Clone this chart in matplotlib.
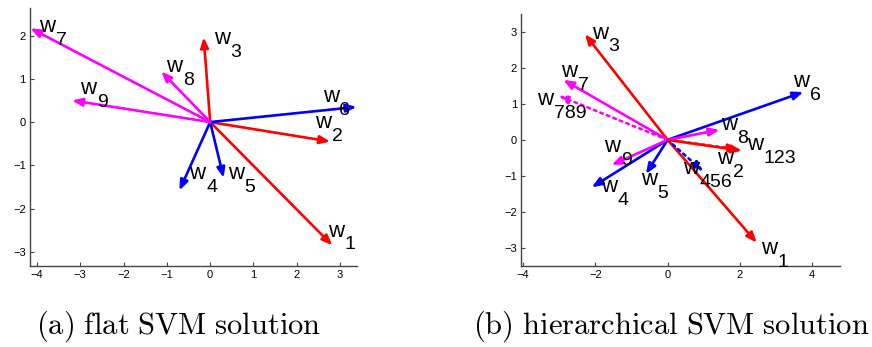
import matplotlib
matplotlib.use("Agg")
import matplotlib.pyplot as plt

plt.rcParams['font.family'] = ['Liberation Sans', 'DejaVu Sans']
plt.rcParams['mathtext.fontset'] = 'cm'

RED = '#ff0000'
BLUE = '#0000ff'
MAGENTA = '#ff00ff'

# flat SVM weight vectors (tip coordinates)
flat_names = ['1', '2', '3', '4', '5', '6', '7', '8', '9']
flat_x = [2.82, 2.77, -0.15, -0.71, 0.31, 3.38, -4.15, -1.13, -3.19]
flat_y = [-2.85, -0.45, 1.96, -1.58, -1.29, 0.35, 2.17, 1.17, 0.50]
flat_colors = [RED, RED, RED, BLUE, BLUE, BLUE, MAGENTA, MAGENTA, MAGENTA]
flat_lab_x = [2.72, 2.42, 0.08, -0.48, 0.41, 2.60, -3.95, -1.02, -3.00]
flat_lab_y = [-2.52, -0.02, 1.94, -1.18, -1.18, 0.59, 2.21, 1.28, 0.78]

# hierarchical SVM: leaf vectors plus dotted group vectors
hier_names = ['1', '2', '3', '4', '5', '6', '7', '8', '9', '789', '456', '123']
hier_x = [2.47, 2.06, -2.29, -2.10, -0.60, 3.76, -2.89, 1.44, -1.55, -3.02, 0.99, 1.96]
hier_y = [-2.86, -0.30, 2.94, -1.32, -0.95, 1.33, 1.67, 0.28, -0.70, 1.23, -0.88, -0.27]
hier_colors = [RED, RED, RED, BLUE, BLUE, BLUE, MAGENTA, MAGENTA, MAGENTA,
               MAGENTA, BLUE, RED]
hier_styles = ['-'] * 9 + [':'] * 3
hier_lab_x = [2.58, 1.36, -2.10, -1.84, -0.74, 3.47, -2.95, 1.47, -1.76, -3.62, 0.42, 2.19]
hier_lab_y = [-3.02, -0.51, 2.97, -1.30, -1.11, 1.62, 1.90, 0.42, -0.19, 1.13, -0.79, -0.14]


def draw_vectors(ax, xs, ys, colors, styles):
    for x, y, c, ls in zip(xs, ys, colors, styles):
        ax.annotate('', xy=(x, y), xytext=(0, 0),
                    arrowprops=dict(arrowstyle='-|>,head_length=0.75,head_width=0.3',
                                    mutation_scale=8, lw=1.9, color=c,
                                    linestyle=ls, shrinkA=0, shrinkB=0))


def draw_labels(ax, xs, ys, names):
    for x, y, n in zip(xs, ys, names):
        ax.text(x, y, 'w', fontsize=16, ha='left', va='center')
        ax.annotate(n, xy=(x, y), xytext=(12, -10), textcoords='offset points',
                    fontsize=14, ha='left', va='center')


def style_axes(ax, xlim, ylim, xticks, yticks):
    ax.set_xlim(*xlim)
    ax.set_ylim(*ylim)
    ax.set_xticks(xticks)
    ax.set_yticks(yticks)
    ax.set_xticklabels(['\u2212%d' % -t if t < 0 else str(t) for t in xticks])
    ax.set_yticklabels(['\u2212%d' % -t if t < 0 else str(t) for t in yticks])
    for side in ['top', 'right']:
        ax.spines[side].set_visible(False)
    for side in ['left', 'bottom']:
        ax.spines[side].set_color('#444444')
        ax.spines[side].set_linewidth(1.0)
    ax.tick_params(direction='in', length=3, width=0.8, color='#444444',
                   labelsize=8, pad=3)
    ax.patch.set_alpha(0)


fig = plt.figure(figsize=(8.72, 3.47), dpi=100)

ax1 = fig.add_axes([0.0344, 0.2343, 0.375, 0.7418])
style_axes(ax1, (-4.16, 3.39), (-3.32, 2.63), range(-4, 4), range(-3, 3))
draw_vectors(ax1, flat_x, flat_y, flat_colors, ['-'] * 9)
draw_labels(ax1, flat_lab_x, flat_lab_y, flat_names)

ax2 = fig.add_axes([0.5975, 0.2343, 0.366, 0.7254])
style_axes(ax2, (-4.06, 4.78), (-3.5, 3.5), [-4, -2, 0, 2, 4], range(-3, 4))
draw_vectors(ax2, hier_x, hier_y, hier_colors, hier_styles)
draw_labels(ax2, hier_lab_x, hier_lab_y, hier_names)

fig.text(36 / 872, 1 - 334 / 347, r'$\mathrm{(a)\ flat\ SVM\ solution}$',
         fontsize=22, ha='left', va='baseline')
fig.text(473 / 872, 1 - 334 / 347, r'$\mathrm{(b)\ hierarchical\ SVM\ solution}$',
         fontsize=22, ha='left', va='baseline')

fig.savefig('out.png', dpi=100)
